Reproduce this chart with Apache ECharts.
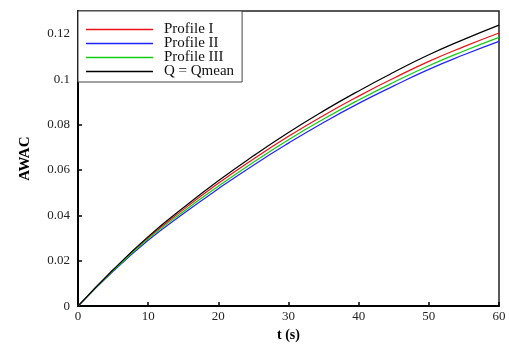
<!DOCTYPE html>
<html>
<head>
<meta charset="utf-8">
<script src="https://cdn.jsdelivr.net/npm/echarts@6/dist/echarts.min.js"></script>
<style>
  html, body { margin: 0; padding: 0; background: #fff; }
  #chart { width: 509px; height: 347px; }
</style>
</head>
<body>
<div id="chart"></div>
<script>
// time (s)
const times = [0, 5, 10, 15, 20, 25, 30, 35, 40, 45, 50, 55, 60];
const profile1 = [0, 0.0158, 0.0301, 0.0425, 0.0541, 0.0648, 0.0748, 0.0840, 0.0925, 0.1004, 0.1078, 0.1143, 0.1203];
const profile2 = [0, 0.0153, 0.0290, 0.0407, 0.0517, 0.0621, 0.0718, 0.0809, 0.0893, 0.0970, 0.1043, 0.1107, 0.1166];
const profile3 = [0, 0.0156, 0.0296, 0.0416, 0.0528, 0.0634, 0.0733, 0.0824, 0.0908, 0.0986, 0.1059, 0.1124, 0.1184];
const qmean = [0, 0.0160, 0.0306, 0.0433, 0.0552, 0.0662, 0.0765, 0.0860, 0.0948, 0.1030, 0.1107, 0.1175, 0.1238];

const serif = 'Liberation Serif';
const pairs = (ys) => times.map((t, i) => [t, ys[i]]);

const line = (name, ys, color) => ({
  name: name,
  type: 'line',
  data: pairs(ys),
  smooth: true,
  symbol: 'none',
  lineStyle: { color: color, width: 1.2 },
  itemStyle: { color: color }
});

const chart = echarts.init(document.getElementById('chart'));
chart.setOption({
  animation: false,
  grid: {
    left: 78, right: 10, top: 11, bottom: 30,
    show: true, borderColor: '#222', borderWidth: 1.5
  },
  legend: {
    orient: 'vertical',
    left: 78, top: 11,
    padding: [11, 8, 3, 8],
    icon: 'rect',
    itemWidth: 67, itemHeight: 1.5, itemGap: -1,
    backgroundColor: '#fff',
    borderColor: '#444', borderWidth: 1,
    textStyle: { fontFamily: serif, fontSize: 15, color: '#111', padding: [0, 0, 0, 6] },
    data: ['Profile I', 'Profile II', 'Profile III', 'Q = Qmean']
  },
  xAxis: {
    type: 'value',
    min: 0, max: 60, interval: 10,
    name: 't (s)',
    nameLocation: 'middle',
    nameGap: 14,
    nameTextStyle: { fontFamily: serif, fontSize: 14, fontWeight: 'bold', color: '#000' },
    axisLine: { lineStyle: { color: '#000', width: 2 } },
    axisTick: { inside: true, length: 4, lineStyle: { color: '#000', width: 1.5 } },
    axisLabel: { fontFamily: serif, fontSize: 13, color: '#222', margin: 4 },
    splitLine: { show: false }
  },
  yAxis: {
    type: 'value',
    min: 0, max: 0.13, interval: 0.02,
    name: 'AWAC',
    nameLocation: 'middle',
    nameGap: 45,
    nameTextStyle: { fontFamily: serif, fontSize: 15, fontWeight: 'bold', color: '#000' },
    axisLine: { lineStyle: { color: '#000', width: 2 } },
    axisTick: { inside: true, length: 4, lineStyle: { color: '#000', width: 1.5 } },
    axisLabel: { fontFamily: serif, fontSize: 13, color: '#222', margin: 8, showMaxLabel: false },
    splitLine: { show: false }
  },
  series: [
    line('Profile I', profile1, '#ee1111'),
    line('Profile II', profile2, '#2222ff'),
    line('Profile III', profile3, '#11cc11'),
    line('Q = Qmean', qmean, '#000000')
  ]
});
</script>
</body>
</html>
